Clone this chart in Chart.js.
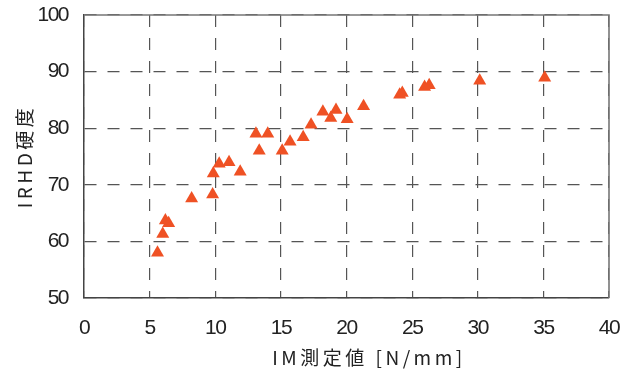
<!DOCTYPE html>
<html>
<head>
<meta charset="utf-8">
<script src="https://cdn.jsdelivr.net/npm/chart.js@4/dist/chart.umd.min.js"></script>
<style>
  html, body { margin: 0; padding: 0; background: #fff; }
  #wrap { width: 631px; height: 374px; }
</style>
</head>
<body>
<div id="wrap"><canvas id="chart"></canvas></div>
<script>
// IM measurement [N/mm] vs IRHD hardness
const imValues = [5.6, 6.0, 6.2, 6.45, 8.2, 9.8, 9.85, 10.3, 11.05, 11.9, 13.1, 13.35, 14.0, 15.1, 15.7, 16.7, 17.3, 18.2, 18.8, 19.2, 20.05, 21.3, 24.05, 24.25, 25.95, 26.3, 30.15, 35.1];
const irhdValues = [58.0, 61.3, 63.7, 63.2, 67.6, 68.3, 72.0, 73.7, 74.0, 72.3, 79.0, 76.0, 79.0, 76.0, 77.6, 78.4, 80.6, 82.9, 81.8, 83.2, 81.6, 83.9, 85.9, 86.2, 87.3, 87.6, 88.4, 88.9];
const xTicks = [0, 5, 10, 15, 20, 25, 30, 35, 40];
const yTicks = [50, 60, 70, 80, 90, 100];
const xTitle = 'IM測定値 [N/mm]';
const yTitle = 'IRHD硬度';

const tickFont = { family: "'Liberation Sans', Arial, sans-serif", size: 21 };
const titleFont = { family: "'Noto Sans CJK JP', sans-serif", size: 19 };

// titles get wide letter spacing, tick labels a tight one (ticks are drawn on a later layer)
const spacing = {
  id: 'spacing',
  beforeDraw(chart) { chart.ctx.letterSpacing = '3.5px'; },
  beforeDatasetsDraw(chart) { chart.ctx.letterSpacing = '-1.5px'; },
  afterDraw(chart) { chart.ctx.letterSpacing = '0px'; },
};

const frame = {
  id: 'frame',
  afterDatasetsDraw(chart) {
    const { ctx, chartArea: a } = chart;
    ctx.save();
    ctx.strokeStyle = '#777';
    ctx.lineWidth = 1.6;
    ctx.beginPath();
    ctx.moveTo(a.left, a.top);
    ctx.lineTo(a.right, a.top);
    ctx.lineTo(a.right, a.bottom);
    ctx.stroke();
    ctx.restore();
  },
};

const gridDash = [12, 11];

new Chart(document.getElementById('chart'), {
  type: 'scatter',
  data: {
    datasets: [{
      data: imValues.map((x, i) => ({ x, y: irhdValues[i] })),
      pointStyle: 'triangle',
      pointRadius: 7.5,
      backgroundColor: '#ef5124',
      borderColor: '#ef5124',
      borderWidth: 0,
    }],
  },
  options: {
    responsive: true,
    maintainAspectRatio: false,
    animation: false,
    events: [],
    layout: { padding: { top: 15, right: 22, left: 0, bottom: 0 } },
    plugins: { legend: { display: false }, tooltip: { enabled: false } },
    scales: {
      x: {
        type: 'linear',
        min: 0,
        max: 40,
        afterBuildTicks: s => { s.ticks = xTicks.map(v => ({ value: v })); },
        afterFit: s => { s.height = 76; s.paddingLeft = 0; s.paddingRight = 0; },
        grid: { color: '#555', lineWidth: 1.2, drawTicks: false },
        border: { display: true, color: '#444', width: 1.5, dash: gridDash },
        ticks: { z: 1, color: '#222', font: tickFont, padding: 18, maxRotation: 0 },
        title: { display: true, text: '\u3000\u3000' + xTitle, color: '#222', font: titleFont, padding: { top: 0, bottom: 5 } },
      },
      y: {
        type: 'linear',
        min: 50,
        max: 100,
        afterBuildTicks: s => { s.ticks = yTicks.map(v => ({ value: v })); },
        afterFit: s => { s.width = 84; s.paddingTop = 0; s.paddingBottom = 0; },
        grid: { color: '#555', lineWidth: 1.2, drawTicks: false },
        border: { display: true, color: '#444', width: 1.5, dash: gridDash },
        ticks: { z: 1, color: '#222', font: tickFont, padding: 16 },
        title: { display: true, text: yTitle, color: '#222', font: titleFont, padding: { top: 13, bottom: 0 } },
      },
    },
  },
  plugins: [spacing, frame],
});
</script>
</body>
</html>
